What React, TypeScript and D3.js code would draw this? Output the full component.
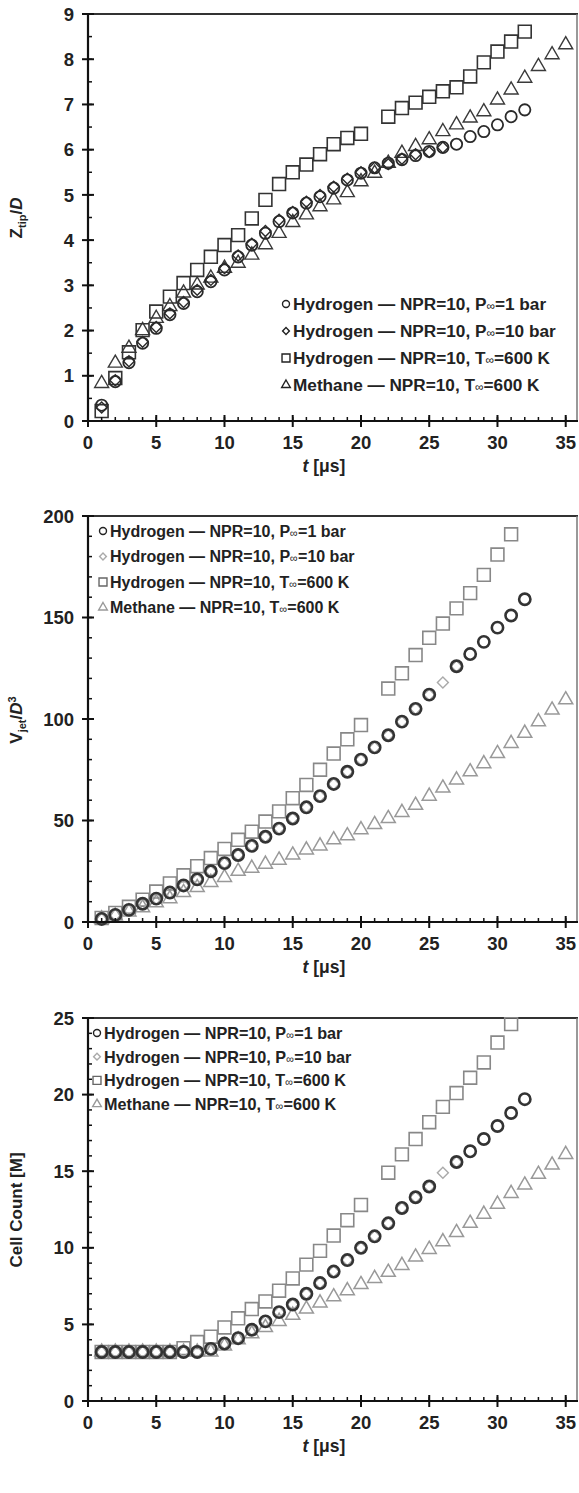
import React from "react";
import * as d3 from "d3";

// time axis (µs), one entry per series index
const tValues = [1,2,3,4,5,6,7,8,9,10,11,12,13,14,15,16,17,18,19,20,21,22,23,24,25,26,27,28,29,30,31,32,33,34,35];
const xTicks = [0,5,10,15,20,25,30,35];

const legendLabels = [
  ["Hydrogen — NPR=10, P", "=1 bar"],
  ["Hydrogen — NPR=10, P", "=10 bar"],
  ["Hydrogen — NPR=10, T", "=600 K"],
  ["Methane — NPR=10, T", "=600 K"],
];

// Panel 1: Z_tip / D
const zH1bar = [0.35,0.87,1.29,1.72,2.05,2.35,2.6,2.86,3.08,3.34,3.63,3.89,4.15,4.41,4.6,4.82,4.96,5.15,5.33,5.48,5.6,5.7,5.78,5.87,5.96,6.05,6.12,6.29,6.4,6.55,6.73,6.88];
const zH10bar = [0.3,0.9,1.32,1.75,2.08,2.38,2.63,2.9,3.12,3.38,3.66,3.92,4.2,4.45,4.62,4.85,5.0,5.18,5.36,5.5,5.6,5.68,5.8,5.9,5.95,6.05];
const zH600K = [0.22,0.95,1.52,2.01,2.42,2.75,3.05,3.34,3.63,3.89,4.11,4.48,4.89,5.24,5.5,5.67,5.9,6.12,6.26,6.35,null,6.73,6.92,7.04,7.17,7.29,7.38,7.62,7.93,8.17,8.39,8.61];
const zCH4 = [0.83,1.28,1.61,2.0,2.27,2.53,2.83,3.01,3.16,3.38,3.49,3.67,3.9,4.15,4.39,4.56,4.74,4.89,5.05,5.29,5.48,5.7,5.92,6.07,6.22,6.4,6.55,6.7,6.84,7.1,7.32,7.58,7.84,8.1,8.32];

// Panel 2: V_jet / D^3
const vH1bar = [1.5,3.5,6,9,11.5,14.5,18,21,25,29,33,37.5,42,46,51,56.5,62,68,74,80,86,92,98.7,105,112,null,126,132,138,145,151,159];
const vH10bar = [1.5,3.5,6,9,11.5,14.5,18,21,25,29,33,37.5,42,46,51,56.5,62,68,74,80,86,92,98.7,105,112,118,126];
const vH600K = [2,4.5,7.5,11,15,19,23,27.5,31.5,36,40.5,44.5,49.5,54.5,61,67.5,75,83,90,97,null,115,122.5,131.5,140,147,154.5,162,171,181,191];
const vCH4 = [1.5,3,5,7,9.5,11.5,14.5,17,19.5,22,25,26.5,28.5,30.5,33,35.5,37.5,40.5,42.5,45.5,48,51,54,57.5,62,66,70,74,78,83,88,93,98.7,104.4,109.5];

// Panel 3: Cell count [M]
const cH1bar = [3.2,3.2,3.2,3.2,3.2,3.2,3.2,3.2,3.4,3.75,4.1,4.65,5.2,5.8,6.3,7.0,7.7,8.45,9.2,10.0,10.75,11.6,12.6,13.3,14.0,null,15.6,16.3,17.1,17.95,18.8,19.7];
const cH10bar = [3.2,3.2,3.2,3.2,3.2,3.2,3.2,3.2,3.4,3.75,4.1,4.65,5.2,5.8,6.3,7.0,7.7,8.45,9.2,10.0,10.75,11.6,12.6,13.3,14.0,14.9,15.6];
const cH600K = [3.2,3.2,3.2,3.2,3.2,3.2,3.45,3.85,4.2,4.8,5.4,6.0,6.5,7.2,8.0,8.9,9.8,10.8,11.8,12.8,null,14.9,16.1,17.1,18.2,19.2,20.1,21.1,22.1,23.4,24.6];
const cCH4 = [3.2,3.2,3.2,3.2,3.2,3.2,3.2,3.2,3.2,3.6,4.0,4.4,4.8,5.2,5.6,6.0,6.4,6.8,7.2,7.6,8.0,8.4,8.85,9.4,9.9,10.4,11.0,11.6,12.2,12.85,13.55,14.1,14.8,15.4,16.1];

const zTicks = [0,1,2,3,4,5,6,7,8,9];
const vTicks = [0,50,100,150,200];
const cTicks = [0,5,10,15,20,25];

type Shape = "circle" | "diamond" | "square" | "triangle";
const shapes: Shape[] = ["circle", "diamond", "square", "triangle"];

function markerPath(shape: Shape, scale: number) {
  if (shape === "circle") return d3.symbol(d3.symbolCircle, 100 * scale * scale)()!;
  if (shape === "square") return d3.symbol(d3.symbolSquare, 165 * scale * scale)()!;
  if (shape === "diamond") return d3.symbol(d3.symbolSquare, 60 * scale * scale)()!;
  return d3.symbol(d3.symbolTriangle, 85 * scale * scale)()!;
}

const FONT = "Liberation Sans, Arial, sans-serif";

type PanelProps = {
  top: number; bottom: number; yMax: number; ticks: number[]; minor: number;
  series: (number | null)[][];
  colors: string[]; widths: number[]; legendColors: string[];
  legend: { x: number; y: number; dy: number; size: number };
  title: React.ReactNode; titleY: number;
};

function Panel(p: PanelProps) {
  const x = d3.scaleLinear().domain([0, 35.9]).range([88, 578]);
  const y = d3.scaleLinear().domain([0, p.yMax]).range([p.bottom, p.top]);
  const minorTicksY = d3.range(0, p.yMax + 1e-9, p.minor);
  const minorTicksX = d3.range(0, 36, 1);
  const drawOrder = [3, 2, 1, 0];
  return (
    <g>
      {/* frame */}
      <line x1={88} x2={578} y1={p.top} y2={p.top} stroke="#333" strokeWidth={2.2} />
      <line x1={577} x2={577} y1={p.top} y2={p.bottom} stroke="#777" strokeWidth={1.5} />
      {/* markers */}
      {drawOrder.map((si) => (
        <g key={si}>
          {p.series[si].map((v, i) =>
            v == null ? null : (
              <path
                key={i}
                d={markerPath(shapes[si], 1)}
                transform={`translate(${x(tValues[i])},${y(v)})${shapes[si] === "diamond" ? " rotate(45)" : ""}`}
                fill="none"
                stroke={p.colors[si]}
                strokeWidth={p.widths[si]}
              />
            )
          )}
        </g>
      ))}
      {/* axes */}
      <line x1={88} x2={88} y1={p.top} y2={p.bottom} stroke="#111" strokeWidth={2.2} />
      <line x1={82} x2={578} y1={p.bottom} y2={p.bottom} stroke="#111" strokeWidth={2.2} />
      {minorTicksY.map((v, i) => (
        <line key={"my" + i} x1={88} x2={92} y1={y(v)} y2={y(v)} stroke="#111" strokeWidth={1.5} />
      ))}
      {p.ticks.map((v) => (
        <g key={"ty" + v}>
          <line x1={82} x2={94} y1={y(v)} y2={y(v)} stroke="#111" strokeWidth={2} />
          <text x={74} y={y(v)} dy="0.36em" textAnchor="end" fontFamily={FONT} fontWeight="bold" fontSize={18.5} fill="#222">{v}</text>
        </g>
      ))}
      {minorTicksX.map((v) => (
        <line key={"mx" + v} x1={x(v)} x2={x(v)} y1={p.bottom} y2={p.bottom - 4} stroke="#111" strokeWidth={1.5} />
      ))}
      {xTicks.map((v) => (
        <g key={"tx" + v}>
          <line x1={x(v)} x2={x(v)} y1={p.bottom - 6} y2={p.bottom + 6} stroke="#111" strokeWidth={2} />
          <text x={x(v)} y={p.bottom + 28} textAnchor="middle" fontFamily={FONT} fontWeight="bold" fontSize={18.5} fill="#222">{v}</text>
        </g>
      ))}
      <text x={324} y={p.bottom + 51} textAnchor="middle" fontFamily={FONT} fontWeight="bold" fontSize={17.5} fill="#222">
        <tspan fontStyle="italic">t</tspan> [μs]
      </text>
      <g transform={`translate(22,${p.titleY}) rotate(-90)`}>
        <text textAnchor="middle" fontFamily={FONT} fontWeight="bold" fontSize={17} fill="#222">{p.title}</text>
      </g>
      {/* legend */}
      {legendLabels.map((lab, i) => {
        const ly = p.legend.y + i * p.legend.dy;
        return (
          <g key={"lg" + i}>
            <path
              d={markerPath(shapes[i], 0.62)}
              transform={`translate(${p.legend.x},${ly})${shapes[i] === "diamond" ? " rotate(45)" : ""}`}
              fill="none"
              stroke={p.legendColors[i]}
              strokeWidth={1.4}
            />
            <text x={p.legend.x + 7} y={ly} dy="0.36em" fontFamily={FONT} fontWeight="bold" fontSize={p.legend.size} fill="#222">
              {lab[0]}
              <tspan fontSize={p.legend.size * 0.7} fontWeight="normal">∞</tspan>
              {lab[1]}
            </text>
          </g>
        );
      })}
    </g>
  );
}

export default function App() {
  return (
    <svg width={579} height={1493} style={{ position: "absolute", left: 0, top: 0, background: "#fff" }}>
      <rect width={579} height={1493} fill="#fff" />
      <Panel
        top={14} bottom={421} yMax={9} ticks={zTicks} minor={0.5}
        series={[zH1bar, zH10bar, zH600K, zCH4]}
        colors={["#2a2a2a", "#2a2a2a", "#333", "#3a3a3a"]}
        widths={[1.8, 1.4, 1.6, 1.4]}
        legendColors={["#222", "#222", "#222", "#222"]}
        legend={{ x: 286, y: 304, dy: 27, size: 17.2 }}
        title={<>Z<tspan fontSize={11} dy={4}>tip</tspan><tspan dy={-4}>/</tspan><tspan fontStyle="italic">D</tspan></>}
        titleY={218}
      />
      <Panel
        top={516} bottom={922} yMax={200} ticks={vTicks} minor={10}
        series={[vH1bar, vH10bar, vH600K, vCH4]}
        colors={["#333", "#aaa", "#888", "#999"]}
        widths={[2.6, 1.4, 1.6, 1.5]}
        legendColors={["#222", "#aaa", "#666", "#999"]}
        legend={{ x: 103, y: 531, dy: 25.5, size: 16 }}
        title={<>V<tspan fontSize={11} dy={4}>jet</tspan><tspan dy={-4}>/</tspan><tspan fontStyle="italic">D</tspan><tspan fontSize={11} dy={-6}>3</tspan></>}
        titleY={720}
      />
      <Panel
        top={1018} bottom={1401} yMax={25} ticks={cTicks} minor={1}
        series={[cH1bar, cH10bar, cH600K, cCH4]}
        colors={["#333", "#aaa", "#888", "#999"]}
        widths={[2.6, 1.4, 1.6, 1.5]}
        legendColors={["#222", "#aaa", "#666", "#999"]}
        legend={{ x: 97, y: 1033, dy: 23.7, size: 16.2 }}
        title={<>Cell Count [M]</>}
        titleY={1210}
      />
    </svg>
  );
}
